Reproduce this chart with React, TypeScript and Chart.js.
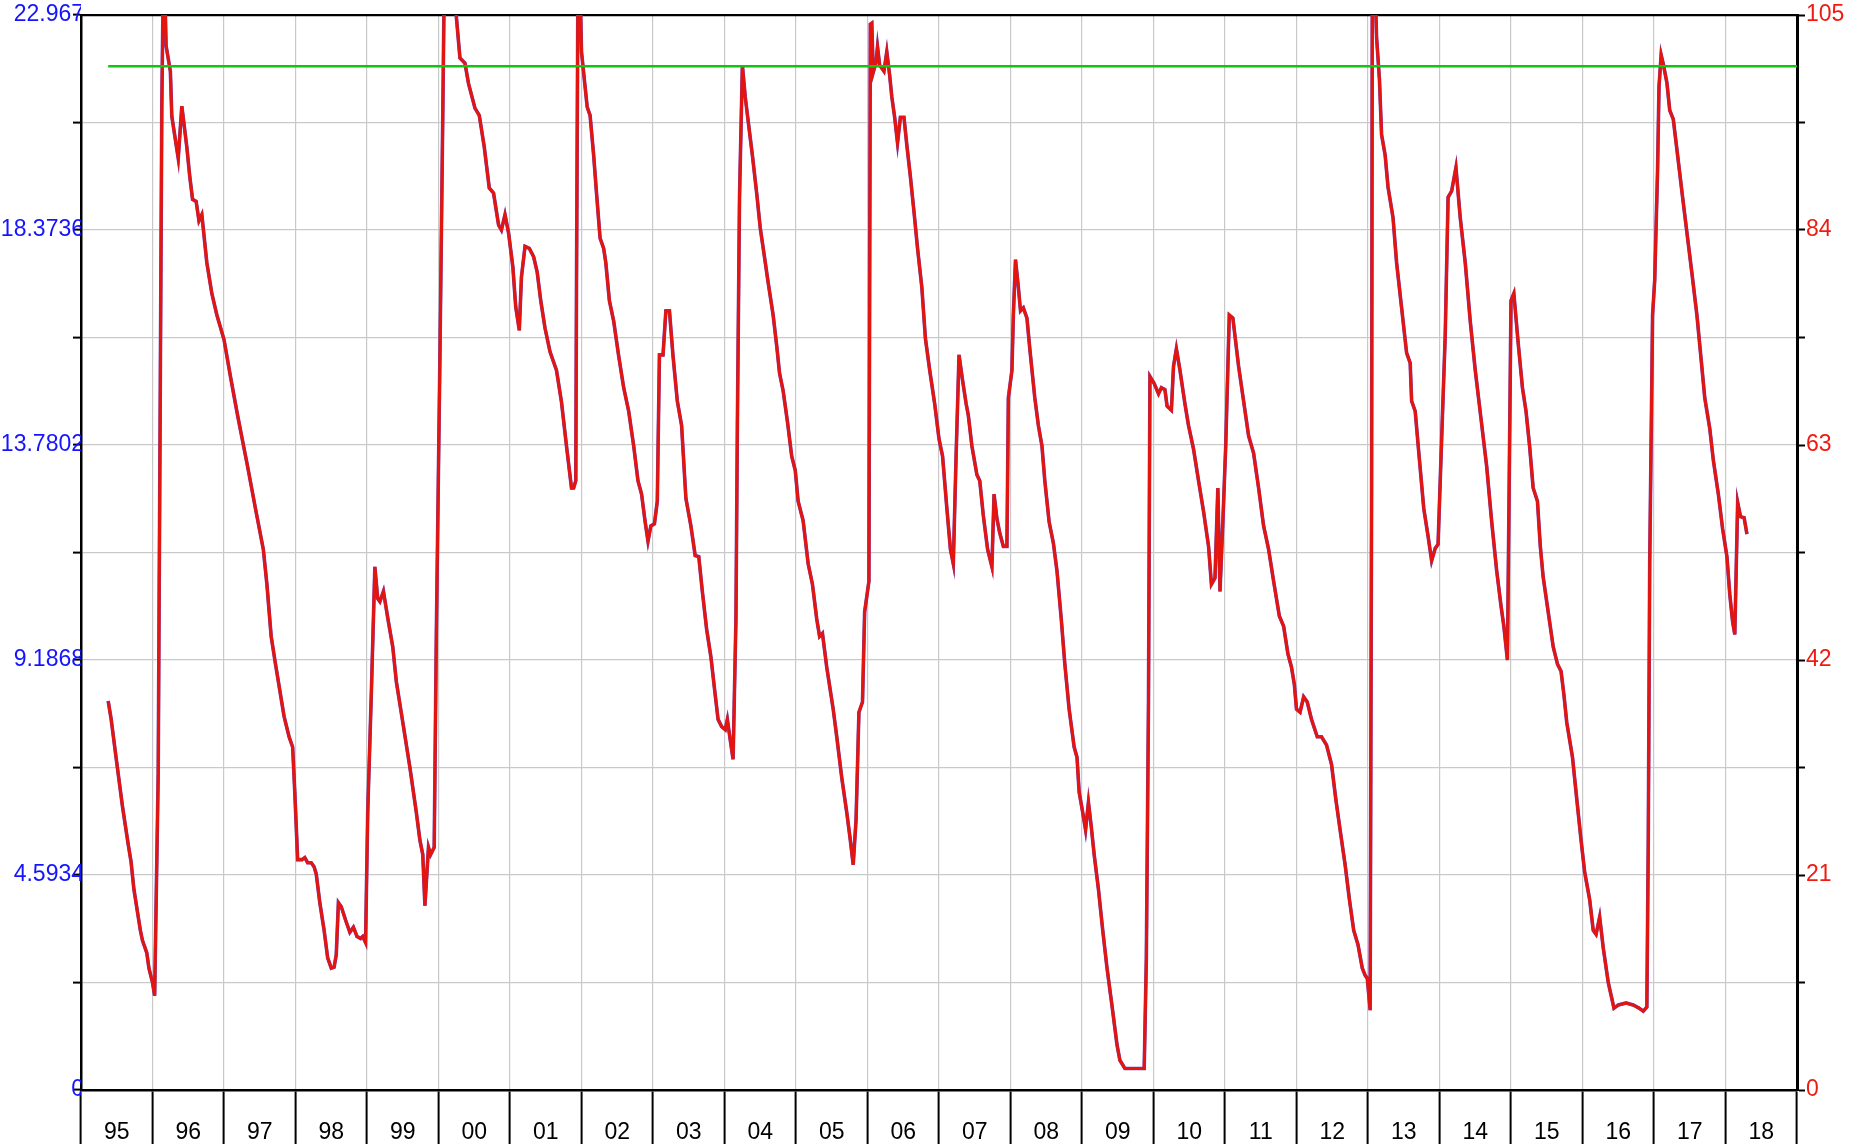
import { useEffect, useRef } from "react";
import { Chart, registerables } from "chart.js";

Chart.register(...registerables);

const START_YEAR = 1995;
const END_YEAR = 2019;
const yearLabels = ["95","96","97","98","99","00","01","02","03","04","05","06","07","08","09","10","11","12","13","14","15","16","17","18"];

const LEFT_MAX = 22.967;
const RIGHT_MAX = 105;
const leftTickValues = [0, 2.2967, 4.5934, 6.8901, 9.1868, 11.4835, 13.7802, 16.0769, 18.3736, 20.6703, 22.967];
const leftTickLabels = ["0", "", "4.5934", "", "9.1868", "", "13.7802", "", "18.3736", "", "22.967"];
const rightTickValues = [0, 10.5, 21, 31.5, 42, 52.5, 63, 73.5, 84, 94.5, 105];
const rightTickLabels = ["0", "", "21", "", "42", "", "63", "", "84", "", "105"];

const thresholdLevel = 100;
const thresholdStart = 0.38;

// [years since start, value on right axis]
const redSeries: [number, number][] = [
  [0.38,38.0],[0.42,36.3],[0.49,32.5],[0.58,27.7],[0.66,24.0],[0.70,22.3],[0.74,19.6],[0.83,15.6],[0.86,14.6],[0.90,13.8],[0.92,13.4],[0.95,11.9],
  [1.00,10.5],[1.03,9.2],[1.08,31],[1.11,70],[1.13,96],[1.15,108],[1.17,108],[1.19,102],[1.25,99.5],[1.27,95.1],[1.36,91.0],[1.41,96.1],[1.48,92.1],[1.52,89.3],[1.56,87.0],[1.61,86.8],[1.65,84.9],[1.69,85.5],[1.76,80.8],[1.83,77.8],[1.90,75.7],
  [2.00,73.3],[2.09,69.7],[2.19,65.9],[2.33,60.9],[2.44,56.8],[2.55,52.8],[2.60,49.4],[2.66,44.3],[2.72,41.6],[2.84,36.5],[2.91,34.5],[2.96,33.5],[2.99,29.1],
  [3.03,22.5],[3.09,22.5],[3.13,22.7],[3.17,22.2],[3.22,22.2],[3.26,21.8],[3.29,21.1],[3.34,18.3],[3.40,15.6],[3.45,12.9],[3.50,11.9],[3.54,12.0],[3.57,13.2],[3.60,18.3],[3.64,17.9],[3.70,16.6],[3.76,15.4],[3.81,15.9],[3.86,15.0],[3.91,14.8],[3.94,15.0],[3.98,14.4],
  [4.01,27.1],[4.06,38.6],[4.11,51.1],[4.15,48.0],[4.18,47.7],[4.23,48.7],[4.30,45.7],[4.36,43.3],[4.41,39.9],[4.51,35.5],[4.60,31.5],[4.69,27.1],[4.74,24.4],[4.78,23.0],[4.81,18.0],[4.86,23.7],[4.89,23.0],[4.94,23.7],[4.97,44.7],
  [5.02,71.7],[5.06,95.3],[5.08,108],[5.15,112],[5.24,108],[5.25,104.8],[5.30,100.8],[5.37,100.3],[5.42,98.3],[5.51,95.9],[5.57,95.2],[5.64,92.1],[5.71,88.1],[5.77,87.6],[5.84,84.5],[5.88,84.0],[5.93,85.5],[5.98,83.7],
  [6.04,80.4],[6.08,76.5],[6.13,74.2],[6.16,79.4],[6.21,82.4],[6.27,82.2],[6.33,81.4],[6.38,79.9],[6.43,77.1],[6.49,74.4],[6.56,72.1],[6.65,70.3],[6.72,67.2],[6.79,62.9],[6.86,58.8],[6.89,58.8],[6.92,59.5],[6.93,78.4],[6.95,108],[6.98,108],
  [7.00,101.4],[7.05,98.0],[7.08,96.0],[7.12,95.2],[7.17,91.3],[7.21,87.6],[7.26,83.2],[7.31,82.2],[7.34,80.8],[7.39,77.1],[7.45,75.1],[7.52,71.7],[7.59,68.6],[7.66,66.3],[7.73,62.9],[7.79,59.5],[7.84,58.2],[7.89,55.5],[7.93,53.6],[7.97,55.1],
  [8.02,55.3],[8.06,57.5],[8.09,71.8],[8.14,71.8],[8.18,76.1],[8.23,76.1],[8.28,71.7],[8.34,67.3],[8.40,64.9],[8.46,57.8],[8.53,55.1],[8.59,52.2],[8.64,52.1],[8.69,48.7],[8.75,45.0],[8.81,42.3],[8.86,39.2],[8.91,36.2],[8.96,35.5],
  [9.01,35.2],[9.04,36.2],[9.08,34.2],[9.12,32.3],[9.16,46.0],[9.18,64.9],[9.21,87.2],[9.25,100.1],[9.29,97.0],[9.33,94.7],[9.39,91.3],[9.45,87.6],[9.50,84.2],[9.55,81.8],[9.61,78.9],[9.68,75.7],[9.73,72.7],[9.77,70.0],[9.82,68.3],[9.88,65.3],[9.94,61.9],[9.99,60.5],
  [10.03,57.5],[10.10,55.6],[10.17,51.4],[10.23,49.4],[10.29,46.0],[10.33,44.3],[10.37,44.6],[10.43,41.3],[10.52,37.2],[10.57,34.5],[10.64,30.5],[10.71,27.1],[10.76,24.4],[10.80,22.0],[10.84,26.4],[10.88,36.9],[10.93,37.9],[10.96,46.7],
  [11.02,49.7],[11.03,78.4],[11.04,104.1],[11.06,104.2],[11.08,99.4],[11.12,100.4],[11.14,101.9],[11.17,100.1],[11.21,99.7],[11.23,99.5],[11.27,101.4],[11.31,99.1],[11.34,97.0],[11.38,95.0],[11.42,92.5],[11.46,95.0],[11.51,95.0],[11.55,92.3],[11.60,89.2],[11.65,85.8],[11.70,82.2],[11.76,78.4],[11.81,73.4],[11.87,70.3],[11.94,67.0],
  [12.00,63.6],[12.05,61.9],[12.11,56.8],[12.16,52.8],[12.20,51.4],[12.24,62.2],[12.28,71.8],[12.33,69.3],[12.38,67.0],[12.41,65.9],[12.46,62.9],[12.53,60.1],[12.57,59.5],[12.62,56.1],[12.68,52.8],[12.74,51.1],[12.77,58.2],[12.81,55.8],[12.85,54.4],[12.90,53.1],[12.95,53.1],[12.97,67.6],
  [13.02,70.3],[13.04,75.7],[13.07,81.1],[13.11,78.4],[13.14,76.1],[13.18,76.4],[13.23,75.4],[13.27,72.4],[13.34,67.6],[13.39,64.9],[13.44,62.9],[13.48,59.5],[13.54,55.5],[13.60,53.4],[13.65,50.7],[13.71,46.0],[13.76,41.6],[13.82,37.2],[13.89,33.5],[13.93,32.5],[13.96,29.1],
  [14.01,27.1],[14.05,25.4],[14.09,28.1],[14.13,25.7],[14.17,23.0],[14.23,19.6],[14.29,15.6],[14.35,11.9],[14.42,8.2],[14.49,4.4],[14.53,2.9],[14.60,2.1],[14.87,2.1],[14.90,12.9],[14.93,37.9],[14.95,69.7],
  [15.01,69.0],[15.07,68.0],[15.11,68.6],[15.16,68.4],[15.19,66.8],[15.25,66.4],[15.28,70.7],[15.32,72.4],[15.37,70.3],[15.44,67.0],[15.49,64.9],[15.56,62.6],[15.63,59.5],[15.70,56.5],[15.77,53.1],[15.81,49.4],[15.86,50.0],[15.90,58.8],[15.93,48.7],[15.97,55.5],
  [16.01,62.9],[16.06,75.7],[16.11,75.4],[16.19,70.7],[16.26,67.3],[16.33,63.9],[16.40,62.2],[16.47,58.8],[16.54,55.1],[16.61,52.8],[16.68,49.7],[16.76,46.3],[16.82,45.3],[16.88,42.6],[16.93,41.3],[16.97,39.6],
  [17.00,37.2],[17.05,36.9],[17.10,38.4],[17.15,37.9],[17.21,36.2],[17.29,34.5],[17.35,34.5],[17.42,33.7],[17.49,31.8],[17.55,28.4],[17.61,25.4],[17.68,22.0],[17.74,18.6],[17.80,15.6],[17.86,14.2],[17.92,11.9],[17.96,11.2],[17.99,10.9],
  [18.03,7.8],[18.05,58.2],[18.06,108],[18.10,108],[18.12,102.8],[18.16,98.7],[18.19,93.3],[18.24,91.3],[18.28,88.2],[18.35,85.2],[18.40,80.8],[18.47,76.4],[18.54,72.0],[18.59,71.0],[18.61,67.3],[18.66,66.3],[18.72,61.5],[18.78,56.8],[18.84,54.1],[18.89,51.7],[18.94,52.9],[18.98,53.3],
  [19.03,63.6],[19.08,73.7],[19.12,87.2],[19.17,87.8],[19.23,90.1],[19.29,85.2],[19.36,80.8],[19.43,75.1],[19.50,70.3],[19.58,65.6],[19.66,60.9],[19.73,55.5],[19.80,50.7],[19.86,47.3],[19.90,45.3],[19.95,42.0],
  [20.00,77.1],[20.04,77.8],[20.10,73.0],[20.16,68.6],[20.21,66.3],[20.26,62.9],[20.31,58.8],[20.37,57.5],[20.41,53.1],[20.45,50.1],[20.52,46.7],[20.59,43.3],[20.65,41.6],[20.70,40.9],[20.74,38.6],[20.78,35.9],[20.86,32.5],[20.92,28.4],[20.98,24.4],
  [21.03,21.3],[21.10,18.6],[21.15,15.6],[21.19,15.2],[21.24,16.9],[21.29,13.9],[21.36,10.5],[21.44,8.0],[21.50,8.3],[21.61,8.5],[21.71,8.3],[21.79,8.0],[21.85,7.7],[21.90,8.1],[21.92,24.4],[21.94,51.4],[21.98,75.7],
  [22.01,79.1],[22.05,89.9],[22.07,98.0],[22.10,101.1],[22.13,100.2],[22.18,98.4],[22.22,95.7],[22.27,94.8],[22.33,91.3],[22.40,87.2],[22.47,83.2],[22.53,79.8],[22.60,75.7],[22.66,71.3],[22.71,67.6],[22.78,64.6],[22.83,61.5],[22.90,58.2],[22.96,54.8],
  [23.02,52.1],[23.06,48.4],[23.10,45.7],[23.13,44.5],[23.17,57.4],[23.21,56.0],[23.26,55.9],[23.30,54.3]
];

const FONT = "'Liberation Sans', Arial, Helvetica, sans-serif";

export default function App() {
  const canvasRef = useRef<HTMLCanvasElement | null>(null);

  useEffect(() => {
    document.body.style.margin = "0";
    const canvas = canvasRef.current;
    if (!canvas) return;

    const redData = redSeries.map(([t, v]) => ({ x: START_YEAR + t, y: v }));
    const blueData = redSeries.map(([t, v]) => ({ x: START_YEAR + t, y: (v * LEFT_MAX) / RIGHT_MAX }));
    const greenData = [
      { x: START_YEAR + thresholdStart, y: thresholdLevel },
      { x: END_YEAR, y: thresholdLevel },
    ];

    const xTicks: number[] = [];
    for (let y = START_YEAR; y <= END_YEAR; y += 0.5) xTicks.push(y);

    const chart = new Chart(canvas, {
      type: "line",
      data: {
        datasets: [
          {
            data: greenData,
            yAxisID: "yRight",
            borderColor: "#12c312",
            borderWidth: 2.6,
            pointRadius: 0,
            tension: 0,
            order: 0,
          },
          {
            data: redData,
            yAxisID: "yRight",
            borderColor: "#e5140c",
            borderWidth: 3.0,
            pointRadius: 0,
            tension: 0,
            order: 1,
          },
          {
            data: blueData,
            yAxisID: "yLeft",
            borderColor: "#7040b8",
            borderWidth: 3.6,
            pointRadius: 0,
            tension: 0,
            order: 2,
          },
        ],
      },
      options: {
        responsive: false,
        animation: false,
        devicePixelRatio: 1,
        layout: { padding: 0 },
        plugins: { legend: { display: false }, tooltip: { enabled: false } },
        scales: {
          x: {
            type: "linear",
            position: "bottom",
            min: START_YEAR,
            max: END_YEAR,
            afterBuildTicks: (scale: any) => {
              scale.ticks = xTicks.map((v) => ({ value: v }));
            },
            afterFit: (scale: any) => {
              scale.height = 54;
            },
            grid: {
              color: (ctx: any) => (ctx.tick && Number.isInteger(ctx.tick.value) ? "#c9c9c9" : "rgba(0,0,0,0)"),
              lineWidth: 1.2,
              tickLength: 54,
              tickColor: (ctx: any) => (ctx.tick && Number.isInteger(ctx.tick.value) ? "#000000" : "rgba(0,0,0,0)"),
              tickWidth: 2,
            },
            border: { display: true, color: "#000000", width: 2.5 },
            ticks: {
              autoSkip: false,
              maxRotation: 0,
              minRotation: 0,
              padding: -25,
              color: "#000000",
              font: { family: FONT, size: 23 },
              callback: (value: any) => {
                const v = Number(value);
                if (Number.isInteger(v)) return "";
                return yearLabels[Math.floor(v) - START_YEAR] ?? "";
              },
            },
          },
          xTop: {
            type: "linear",
            position: "top",
            min: START_YEAR,
            max: END_YEAR,
            afterFit: (scale: any) => {
              scale.height = 15;
            },
            grid: { display: false },
            border: { display: true, color: "#000000", width: 2.2 },
            ticks: { display: false },
          },
          yLeft: {
            type: "linear",
            position: "left",
            min: 0,
            max: LEFT_MAX,
            afterBuildTicks: (scale: any) => {
              scale.ticks = leftTickValues.map((v) => ({ value: v }));
            },
            afterFit: (scale: any) => {
              scale.width = 81;
            },
            grid: {
              color: "#c9c9c9",
              lineWidth: 1.2,
              tickLength: 8,
              tickColor: "#000000",
              tickWidth: 2,
            },
            border: { display: true, color: "#000000", width: 2.5 },
            ticks: {
              autoSkip: false,
              padding: -11,
              color: "#1414ff",
              font: { family: FONT, size: 23 },
              callback: (_v: any, index: number) => leftTickLabels[index] ?? "",
            },
          },
          yRight: {
            type: "linear",
            position: "right",
            min: 0,
            max: RIGHT_MAX,
            afterBuildTicks: (scale: any) => {
              scale.ticks = rightTickValues.map((v) => ({ value: v }));
            },
            afterFit: (scale: any) => {
              scale.width = 67;
            },
            grid: {
              drawOnChartArea: false,
              tickLength: 8,
              tickColor: "#000000",
              tickWidth: 2,
            },
            border: { display: true, color: "#000000", width: 3 },
            ticks: {
              autoSkip: false,
              padding: 1,
              color: "#f01a10",
              font: { family: FONT, size: 23 },
              callback: (_v: any, index: number) => rightTickLabels[index] ?? "",
            },
          },
        },
      },
    } as any);

    return () => {
      chart.destroy();
    };
  }, []);

  return (
    <div style={{ position: "fixed", left: 0, top: 0, width: 1864, height: 1144, background: "#ffffff" }}>
      <canvas ref={canvasRef} width={1864} height={1144} style={{ display: "block", width: 1864, height: 1144 }} />
    </div>
  );
}
